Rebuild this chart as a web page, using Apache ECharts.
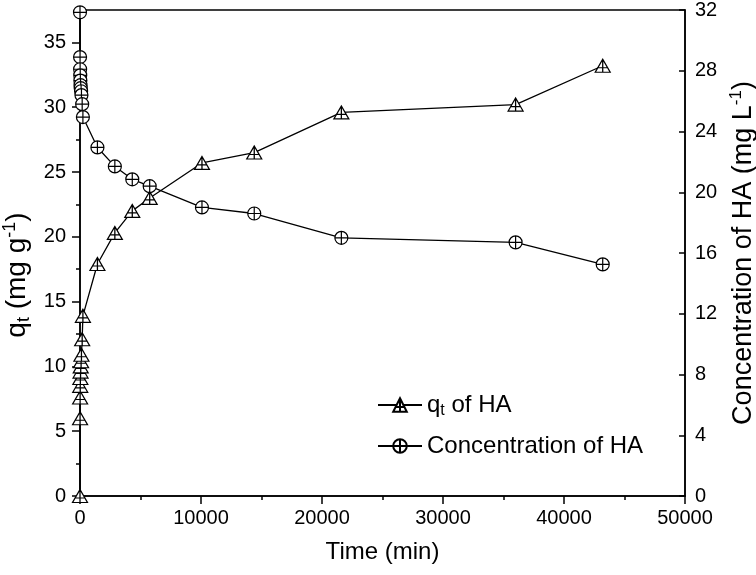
<!DOCTYPE html>
<html>
<head>
<meta charset="utf-8">
<script src="https://cdn.jsdelivr.net/npm/echarts@6/dist/echarts.min.js"></script>
<style>html,body{margin:0;padding:0;background:#fff}#c{width:756px;height:575px}</style>
</head>
<body>
<div id="c"></div>
<script>
var timeMin = [0, 5, 10, 20, 30, 45, 60, 90, 120, 180, 240, 1440, 2880, 4320, 5760, 10080, 14400, 21600, 36000, 43200];
var qtHA = [0, 6.0, 7.6, 8.5, 9.1, 9.6, 10.0, 10.4, 10.9, 12.1, 13.9, 17.9, 20.3, 22.0, 23.0, 25.7, 26.5, 29.6, 30.2, 33.2];
var concHA = [31.85, 28.9, 28.1, 27.7, 27.35, 27.05, 26.85, 26.65, 26.4, 25.8, 24.95, 22.95, 21.7, 20.85, 20.4, 19.0, 18.6, 17.0, 16.7, 15.25];
var leftTicks = [0, 5, 10, 15, 20, 25, 30, 35];
var rightTicks = [0, 4, 8, 12, 16, 20, 24, 28, 32];
var xTicks = [0, 10000, 20000, 30000, 40000, 50000];

var FONT = "'Liberation Sans', Arial, sans-serif";
var circlePath = 'path://M0,10A10,10 0 1,1 20,10A10,10 0 1,1 0,10ZM10,0L10,20M0,10L20,10';
var triPath = 'path://M10,0L20,17.32L0,17.32ZM10,0L10,17.32M3.5,11.3L16.5,11.3';

function pairs(xs, ys) { return xs.map(function (x, i) { return [x, ys[i]]; }); }

var axisLine = { show: true, lineStyle: { color: '#000', width: 1.5 } };
var chart = echarts.init(document.getElementById('c'));
chart.setOption({
  animation: false,
  backgroundColor: '#fff',
  grid: { left: 80, right: 71, top: 10, bottom: 79, containLabel: false, outerBoundsMode: 'none',
    show: true, borderColor: '#000', borderWidth: 1.5, backgroundColor: 'transparent' },
  xAxis: {
    type: 'value', min: 0, max: 50000, interval: 10000,
    axisLine: axisLine,
    axisTick: { show: true, inside: false, length: 8, lineStyle: { color: '#000', width: 1.5 } },
    minorTick: { show: true, splitNumber: 2, length: 4, lineStyle: { color: '#000', width: 1.5 } },
    splitLine: { show: false },
    axisLabel: { color: '#000', fontSize: 20, fontFamily: FONT, margin: 12, customValues: xTicks,
      formatter: function (v) { return String(v); } },
    name: 'Time (min)', nameLocation: 'middle', nameGap: 44,
    nameTextStyle: { color: '#000', fontSize: 24, fontFamily: FONT }
  },
  yAxis: [
    {
      type: 'value', position: 'left', min: 0, max: 37.5, interval: 2.5,
      axisLine: axisLine,
      axisTick: { show: true, inside: false, length: 8, customValues: leftTicks, lineStyle: { color: '#000', width: 1.5 } },
      splitLine: { show: false },
      axisLabel: { color: '#000', fontSize: 20, fontFamily: FONT, margin: 14, customValues: leftTicks },
      name: '{n|q}{sub|t}{n| (mg g}{sup|-1}{n|)}', nameLocation: 'middle', nameGap: 45, nameRotate: 90,
      nameTextStyle: { color: '#000', fontSize: 28, fontFamily: FONT, padding: [0, 44, 0, 0],
        rich: { n: { fontSize: 28, fontFamily: FONT, color: '#000' },
                sub: { fontSize: 18, fontFamily: FONT, color: '#000', padding: [13, 0, 0, 0] },
                sup: { fontSize: 18, fontFamily: FONT, color: '#000', padding: [0, 0, 14, 0] } } }
    },
    {
      type: 'value', position: 'right', min: 0, max: 32, interval: 4,
      axisLine: axisLine,
      axisTick: { show: true, inside: true, length: 6, customValues: rightTicks, lineStyle: { color: '#000', width: 1.5 } },
      splitLine: { show: false },
      axisLabel: { color: '#000', fontSize: 20, fontFamily: FONT, margin: 10, customValues: rightTicks },
      name: '{n|Concentration of HA (mg L}{sup|-1}{n|)}', nameLocation: 'middle', nameGap: 40, nameRotate: 90,
      nameTextStyle: { color: '#000', fontSize: 27, fontFamily: FONT,
        rich: { n: { fontSize: 27, fontFamily: FONT, color: '#000' },
                sup: { fontSize: 17, fontFamily: FONT, color: '#000', padding: [0, 0, 13, 0] } } }
    },
    {
      type: 'value', position: 'left', min: 0, max: 37.5, interval: 2.5,
      axisLine: { show: false },
      axisTick: { show: true, inside: false, length: 4, lineStyle: { color: '#000', width: 1.5 } },
      splitLine: { show: false },
      axisLabel: { show: false }
    }
  ],
  legend: {
    orient: 'vertical', left: 372, top: 388, itemWidth: 44, itemHeight: 17, itemGap: 15,
    data: ['qt', 'conc'],
    formatter: function (name) {
      return name === 'qt' ? '{n|q}{sub|t}{n| of HA}' : '{n|Concentration of HA}';
    },
    textStyle: { color: '#000', fontSize: 24, fontFamily: FONT,
      rich: { n: { fontSize: 24, fontFamily: FONT, color: '#000' },
              sub: { fontSize: 16, fontFamily: FONT, color: '#000', padding: [12, 0, 0, 0] } } }
  },
  series: [
    {
      name: 'qt', type: 'line', yAxisIndex: 0, data: pairs(timeMin, qtHA),
      symbol: triPath, symbolSize: [15, 13], symbolKeepAspect: false,
      itemStyle: { color: '#fff', borderColor: '#000', borderWidth: 1.2 },
      lineStyle: { color: '#000', width: 1.3 }, z: 3
    },
    {
      name: 'conc', type: 'line', yAxisIndex: 1, data: pairs(timeMin, concHA),
      symbol: circlePath, symbolSize: 13,
      itemStyle: { color: '#fff', borderColor: '#000', borderWidth: 1.2 },
      lineStyle: { color: '#000', width: 1.3 }, z: 3
    }
  ]
});
</script>
</body>
</html>
